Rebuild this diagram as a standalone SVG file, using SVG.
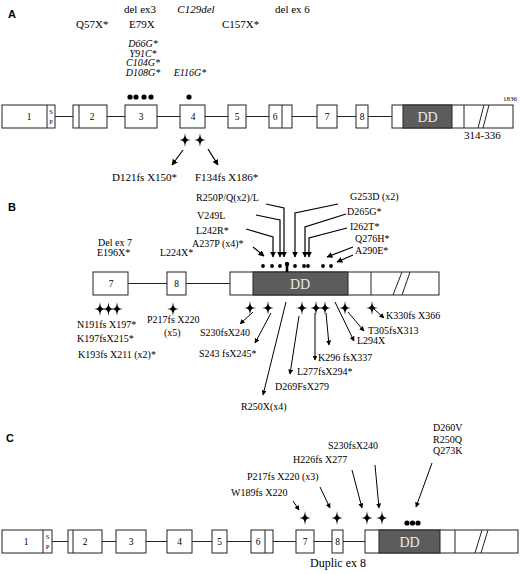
<svg xmlns="http://www.w3.org/2000/svg" xmlns:xlink="http://www.w3.org/1999/xlink" width="520" height="574" viewBox="0 0 520 574">
<style>
.t{font-family:"Liberation Serif","Times New Roman",serif;font-size:10px;fill:#000}
.ta{font-size:11px}
.i{font-style:italic}
.it{font-size:10px}
.pl{font-family:"Liberation Sans",Arial,sans-serif;font-weight:bold;font-size:11px}
.n{font-family:"Liberation Serif",serif;font-size:9.5px;text-anchor:middle}
.sp{font-family:"Liberation Serif",serif;font-size:6.5px;text-anchor:middle}
.ex{fill:#fff;stroke:#222;stroke-width:1}
.dd{fill:#5c5c5c;stroke:#222;stroke-width:1}
.ddt{font-family:"Liberation Serif",serif;font-size:14px;fill:#e8e8e8;text-anchor:middle}
.ln{stroke:#222;stroke-width:1;fill:none}
.ar{stroke:#000;stroke-width:1.2;fill:none;marker-end:url(#ah)}
.ar2{stroke:#000;stroke-width:1;fill:none;marker-end:url(#ah)}
.m{text-anchor:middle}
</style>
<defs>
<marker id="ah" viewBox="0 0 10 10" refX="9" refY="5" markerWidth="5" markerHeight="5" orient="auto"><path d="M0,0 L10,5 L0,10 z" fill="#000"/></marker>
<path id="star" d="M0,-7 C0.8,-1.2 1.2,-0.8 6,0 C1.2,0.8 0.8,1.2 0,7 C-0.8,1.2 -1.2,0.8 -6,0 C-1.2,-0.8 -0.8,-1.2 0,-7Z" fill="#000"/>
</defs>
<rect width="520" height="574" fill="#fff"/>

<!-- ============ PANEL A ============ -->
<g id="panelA">
<text class="pl" x="8" y="18">A</text>
<g id="A-backbone"><line class="ln" x1="55" y1="116.5" x2="392" y2="116.5"/></g>
<g id="A-ex1"><rect class="ex" x="2" y="105" width="53" height="23"/><line class="ln" x1="47" y1="105" x2="47" y2="128"/><text class="n" x="29" y="120">1</text><text class="sp" x="51" y="114">S</text><text class="sp" x="51" y="124">P</text></g>
<g id="A-ex2"><rect class="ex" x="73" y="105" width="34" height="23"/><line class="ln" x1="79" y1="105" x2="79" y2="128"/><text class="n" x="92" y="120">2</text></g>
<g id="A-ex3"><rect class="ex" x="125" y="105" width="32" height="23"/><text class="n" x="141" y="120">3</text></g>
<g id="A-ex4"><rect class="ex" x="180" y="105" width="25" height="23"/><text class="n" x="193" y="120">4</text></g>
<g id="A-ex5"><rect class="ex" x="228" y="105" width="18" height="23"/><text class="n" x="237" y="120">5</text></g>
<g id="A-ex6"><rect class="ex" x="269" y="105" width="23" height="23"/><line class="ln" x1="282" y1="105" x2="282" y2="128"/><text class="n" x="275" y="120">6</text></g>
<g id="A-ex7"><rect class="ex" x="317" y="105" width="20" height="23"/><text class="n" x="327" y="120">7</text></g>
<g id="A-ex8"><rect class="ex" x="356" y="105" width="12" height="23"/><text class="n" x="362" y="120">8</text></g>
<g id="A-main"><rect class="ex" x="392" y="105" width="121" height="23"/><rect class="dd" x="403" y="105" width="49" height="23"/><text class="ddt" x="427.5" y="122">DD</text><line class="ln" x1="464" y1="105" x2="464" y2="128"/><line class="ln" x1="478" y1="128" x2="484" y2="105"/><line class="ln" x1="483" y1="128" x2="489" y2="105"/>
<text class="t" style="font-size:7px" x="503" y="101">1836</text>
<text class="t ta" x="464" y="139">314-336</text></g>

<g id="A-labels">
<text class="t ta m" x="140" y="13">del ex3</text>
<text class="t ta i m" x="196" y="13">C129del</text>
<text class="t ta" x="275" y="13">del ex 6</text>
<text class="t ta" x="76" y="28">Q57X*</text>
<text class="t ta" x="129" y="28">E79X</text>
<text class="t ta" x="222" y="28">C157X*</text>
<text class="t it i m" x="143" y="47">D66G*</text>
<text class="t it i m" x="143" y="56.5">Y91C*</text>
<text class="t it i m" x="143" y="66">C104G*</text>
<text class="t it i m" x="143" y="75.5">D108G*</text>
<text class="t it i m" x="190" y="75.5">E116G*</text>
<text class="t ta" x="112" y="181">D121fs X150*</text>
<text class="t ta" x="195" y="181">F134fs X186*</text>
</g>
<g id="A-marks">
<circle cx="130" cy="97" r="2.6"/><circle cx="136" cy="97" r="2.6"/><circle cx="144" cy="97" r="2.6"/><circle cx="151" cy="97" r="2.6"/>
<circle cx="189" cy="97" r="2.6"/>
<use href="#star" x="185" y="140"/><use href="#star" x="200" y="140"/>
</g>
<g id="A-connectors">
<line class="ar" x1="183" y1="150" x2="172" y2="165"/>
<line class="ar" x1="208" y1="149" x2="218" y2="165"/>
</g>
</g>

<!-- ============ PANEL B ============ -->
<g id="panelB">
<text class="pl" x="8" y="211">B</text>
<g id="B-backbone"><line class="ln" x1="128" y1="283.5" x2="230" y2="283.5"/></g>
<g id="B-ex7"><rect class="ex" x="93" y="272" width="35" height="23"/><text class="n" x="111" y="287">7</text></g>
<g id="B-ex8"><rect class="ex" x="167" y="272" width="19" height="23"/><text class="n" x="176.5" y="287">8</text></g>
<g id="B-main"><rect class="ex" x="230" y="272" width="209" height="23"/><rect class="dd" x="253" y="272" width="95" height="23"/><text class="ddt" x="300" y="289">DD</text><line class="ln" x1="371" y1="272" x2="371" y2="295"/><line class="ln" x1="393" y1="295" x2="402" y2="272"/><line class="ln" x1="402" y1="295" x2="410" y2="272"/></g>

<g id="B-labels">
<text class="t" x="196" y="201">R250P/Q(x2)/L</text>
<text class="t" x="197" y="219">V249L</text>
<text class="t" x="196" y="234">L242R*</text>
<text class="t" x="192" y="247">A237P (x4)*</text>
<text class="t" x="98" y="246">Del ex 7</text>
<text class="t" x="97" y="256">E196X*</text>
<text class="t" x="160" y="256">L224X*</text>
<text class="t" x="350" y="200">G253D (x2)</text>
<text class="t" x="347" y="215">D265G*</text>
<text class="t" x="350" y="230">I262T*</text>
<text class="t" x="355" y="242">Q276H*</text>
<text class="t" x="355" y="254">A290E*</text>
<text class="t" x="77" y="328">N191fs X197*</text>
<text class="t" x="77" y="342">K197fsX215*</text>
<text class="t" x="78" y="358">K193fs X211 (x2)*</text>
<text class="t" x="147" y="323">P217fs X220</text>
<text class="t" x="164" y="336">(x5)</text>
<text class="t" x="200" y="336">S230fsX240</text>
<text class="t" x="199" y="357">S243 fsX245*</text>
<text class="t" x="241" y="410">R250X(x4)</text>
<text class="t" x="275" y="390">D269FsX279</text>
<text class="t" x="297" y="375">L277fsX294*</text>
<text class="t" x="318" y="361">K296 fsX337</text>
<text class="t" x="357" y="344">L294X</text>
<text class="t" x="368" y="334">T305fsX313</text>
<text class="t" x="386" y="319">K330fs X366</text>
</g>
<g id="B-marks">
<circle cx="263" cy="266" r="1.9"/><circle cx="272" cy="266" r="1.9"/><circle cx="280" cy="266" r="1.9"/>
<circle cx="287" cy="264" r="2.2"/><line x1="287" y1="264" x2="287" y2="272" stroke="#000" stroke-width="2.6"/>
<circle cx="295" cy="266" r="1.9"/><circle cx="304" cy="266" r="1.9"/><circle cx="308" cy="266" r="1.9"/><circle cx="323" cy="266" r="1.9"/><circle cx="331" cy="266" r="1.9"/>
<use href="#star" x="100" y="309"/><use href="#star" x="108.5" y="309"/><use href="#star" x="117" y="309"/>
<use href="#star" x="173" y="309"/>
<use href="#star" x="250" y="308"/><use href="#star" x="268" y="308"/><use href="#star" x="302" y="308"/><use href="#star" x="316" y="308"/><use href="#star" x="325" y="308"/><use href="#star" x="345" y="308"/><use href="#star" x="372" y="308"/>
</g>
<g id="B-connectors">
<polyline class="ar" points="253,247 264,256"/>
<polyline class="ar" points="246,229 273,237 273,257"/>
<polyline class="ar" points="256,215 280,220 280,257"/>
<polyline class="ar" points="266,204 284,208 284,257"/>
<polyline class="ar" points="338,204 295,213 295,257"/>
<polyline class="ar" points="346,214 305,227 305,257"/>
<polyline class="ar" points="347,228 309,238 309,257"/>
<line class="ar" x1="353" y1="247" x2="327" y2="257"/>
<line class="ar" x1="353" y1="255" x2="337" y2="262"/>
<line class="ar2" x1="253" y1="312" x2="240" y2="324"/>
<line class="ar2" x1="271" y1="313" x2="255" y2="343"/>
<line class="ar2" x1="286" y1="302" x2="263" y2="395"/>
<line class="ar2" x1="299" y1="316" x2="290" y2="374"/>
<line class="ar2" x1="315" y1="313" x2="315" y2="360"/>
<line class="ar2" x1="326" y1="313" x2="329" y2="345"/>
<line class="ar2" x1="335" y1="302" x2="354" y2="341"/>
<line class="ar2" x1="348" y1="312" x2="364" y2="331"/>
<line class="ar2" x1="374" y1="309" x2="384" y2="318"/>
</g>
</g>

<!-- ============ PANEL C ============ -->
<g id="panelC">
<text class="pl" x="6" y="442">C</text>
<g id="C-backbone"><line class="ln" x1="52" y1="541.5" x2="365" y2="541.5"/></g>
<g id="C-ex1"><rect class="ex" x="2" y="530" width="50" height="23"/><line class="ln" x1="43" y1="530" x2="43" y2="553"/><text class="n" x="26" y="545">1</text><text class="sp" x="47.5" y="539">S</text><text class="sp" x="47.5" y="549">P</text></g>
<g id="C-ex2"><rect class="ex" x="68" y="530" width="34" height="23"/><line class="ln" x1="73" y1="530" x2="73" y2="553"/><text class="n" x="85" y="545">2</text></g>
<g id="C-ex3"><rect class="ex" x="116" y="530" width="30" height="23"/><text class="n" x="131" y="545">3</text></g>
<g id="C-ex4"><rect class="ex" x="167" y="530" width="25" height="23"/><text class="n" x="179.5" y="545">4</text></g>
<g id="C-ex5"><rect class="ex" x="212" y="530" width="15" height="23"/><text class="n" x="219.5" y="545">5</text></g>
<g id="C-ex6"><rect class="ex" x="251" y="530" width="22" height="23"/><line class="ln" x1="265" y1="530" x2="265" y2="553"/><text class="n" x="258" y="545">6</text></g>
<g id="C-ex7"><rect class="ex" x="296" y="530" width="18" height="23"/><text class="n" x="305" y="545">7</text></g>
<g id="C-ex8"><rect class="ex" x="332" y="530" width="11" height="23"/><text class="n" x="337.5" y="545">8</text></g>
<g id="C-main"><rect class="ex" x="365" y="530" width="153" height="23"/><rect class="dd" x="379" y="530" width="61" height="23"/><text class="ddt" x="409.5" y="547">DD</text><line class="ln" x1="455" y1="530" x2="455" y2="553"/><line class="ln" x1="475" y1="553" x2="482" y2="530"/><line class="ln" x1="481" y1="553" x2="488" y2="530"/></g>
<g id="C-labels">
<text class="t" x="231" y="496">W189fs X220</text>
<text class="t" x="247" y="480">P217fs X220 (x3)</text>
<text class="t" x="293" y="463">H226fs X277</text>
<text class="t" x="328" y="449">S230fsX240</text>
<text class="t" x="433" y="431">D260V</text>
<text class="t" x="433" y="443">R250Q</text>
<text class="t" x="433" y="454">Q273K</text>
<text class="t" style="font-size:12px" x="310" y="567">Duplic ex 8</text>
</g>
<g id="C-marks">
<use href="#star" x="305" y="518"/><use href="#star" x="337" y="518"/><use href="#star" x="367" y="518"/><use href="#star" x="382" y="518"/>
<circle cx="407" cy="523" r="2.6"/><circle cx="412.5" cy="523" r="2.6"/><circle cx="418" cy="523" r="2.6"/>
</g>
<g id="C-connectors">
<line class="ar2" x1="293" y1="501" x2="299" y2="510"/>
<line class="ar2" x1="320" y1="487" x2="330" y2="508"/>
<line class="ar2" x1="352" y1="470" x2="362" y2="508"/>
<line class="ar2" x1="375" y1="465" x2="379" y2="508"/>
<line class="ar2" x1="432" y1="463" x2="416" y2="507"/>
</g>
</g>
</svg>
